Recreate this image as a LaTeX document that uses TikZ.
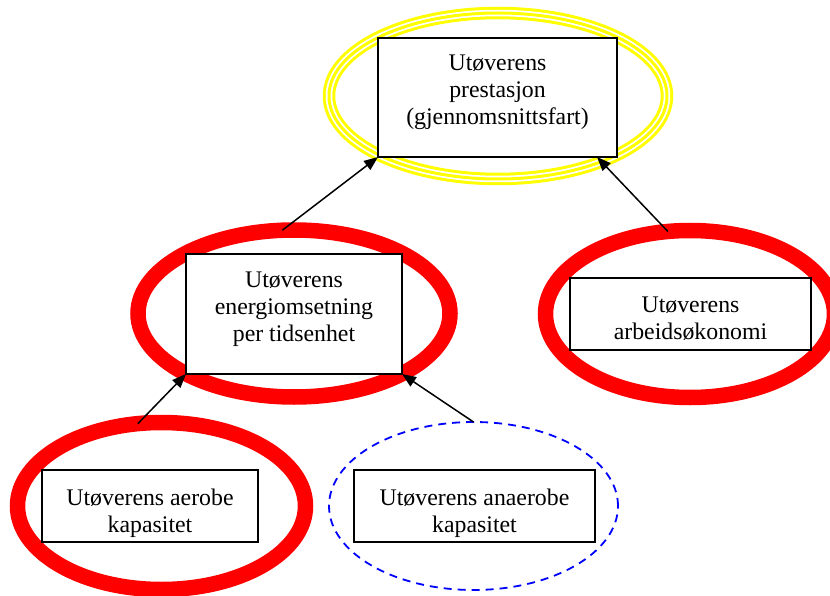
\documentclass[tikz,border=0pt]{standalone}
\usepackage{fontspec}
\setmainfont{Liberation Serif}
\usetikzlibrary{shapes.geometric,arrows.meta}
\begin{document}
\begin{tikzpicture}[x=1pt,y=-1pt,
  oval/.style={ellipse,inner sep=0pt,outer sep=0pt},
  redring/.style={oval,draw={rgb,255:red,255;green,0;blue,0},line width=15.5pt},
  yellowring/.style={oval,draw={rgb,255:red,255;green,255;blue,0},line width=12.5pt,
     postaction={draw=white,line width=6.5pt},
     postaction={draw={rgb,255:red,255;green,255;blue,0},line width=3pt}},
  bluering/.style={oval,draw={rgb,255:red,0;green,0;blue,255},line width=1.8pt,dash pattern=on 8pt off 6pt},
  box/.style={rectangle,draw=black,line width=2pt,fill=white,inner sep=0pt,outer sep=0pt},
  label/.style={align=center,inner sep=0pt,font=\fontsize{23.8}{26.8}\selectfont},
  conn/.style={line width=1.5pt,-{Triangle[length=14pt,width=11pt]}}
]
\useasboundingbox (0,0) rectangle (830,596);

% rings
\node[yellowring,minimum width=338pt,minimum height=166pt] (e1) at (498,96) {};
\node[redring,minimum width=312pt,minimum height=167pt] (e2) at (294,313.5) {};
\node[redring,minimum width=289pt,minimum height=167pt] (e3) at (690,314) {};
\node[redring,minimum width=288pt,minimum height=167pt] (e4) at (161.5,506) {};
\node[bluering,minimum width=289pt,minimum height=168pt] (e5) at (473.5,506) {};

% boxes
\node[box,minimum width=239pt,minimum height=119pt] (t1) at (497.5,97.5) {};
\node[box,minimum width=216pt,minimum height=120pt] (t2) at (294,314) {};
\node[box,minimum width=241pt,minimum height=72pt] (t3) at (690.5,314) {};
\node[box,minimum width=216pt,minimum height=72pt] (t4) at (150,506) {};
\node[box,minimum width=241pt,minimum height=72pt] (t5) at (474.5,506) {};

% texts
\node[label] (x1) at (497.5,92) {Utøverens\\prestasjon\\(gjennomsnittsfart)};
\node[label] (x2) at (294,309) {Utøverens\\energiomsetning\\per tidsenhet};
\node[label] (x3) at (690.5,319) {Utøverens\\arbeidsøkonomi};
\node[label] (x4) at (150,513) {Utøverens aerobe\\kapasitet};
\node[label] (x5) at (474.5,513) {Utøverens anaerobe\\kapasitet};

% connectors
\draw[conn] (e2.98) -- (t1.south west);
\draw[conn] (e3.105) -- ([xshift=-20pt]t1.south east);
\draw[conn] (e4.106) -- (t2.south west);
\draw[conn] (e5.90) -- (t2.south east);
\end{tikzpicture}
\end{document}
